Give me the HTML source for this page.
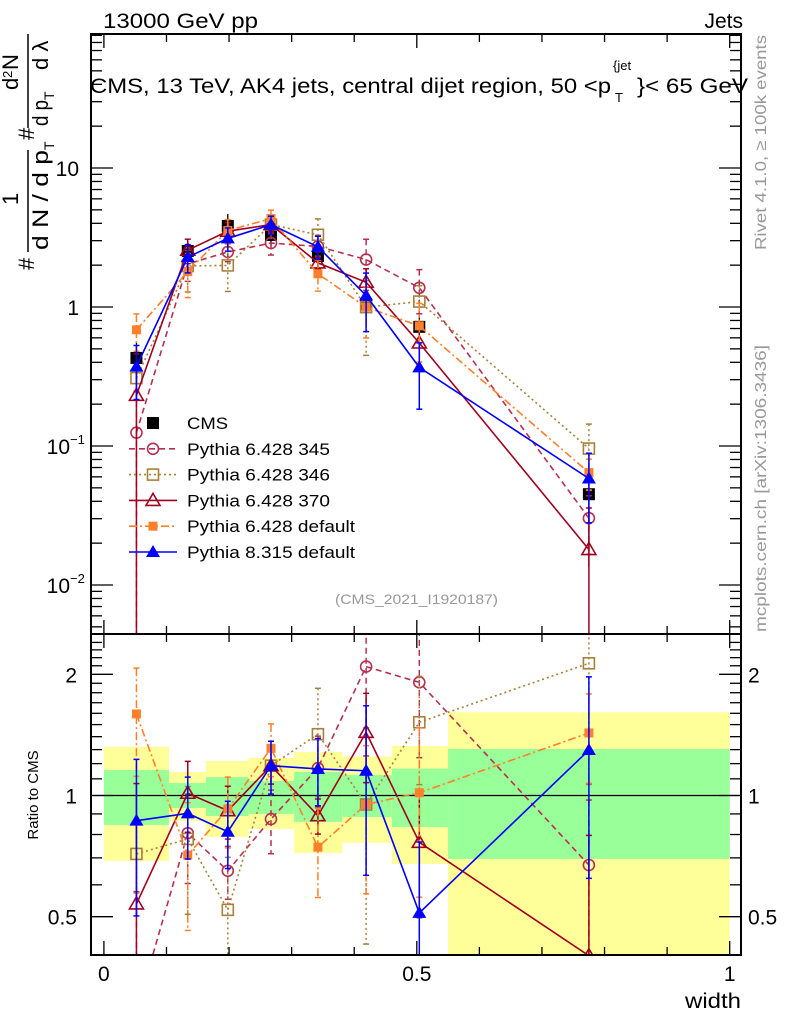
<!DOCTYPE html>
<html><head><meta charset="utf-8"><style>
body{margin:0;background:#fff;width:786px;height:1024px;overflow:hidden;font-family:"Liberation Sans",sans-serif}
svg{display:block;overflow:hidden}
</style></head><body>
<svg id="c" width="786" height="1024" xmlns="http://www.w3.org/2000/svg" font-family="Liberation Sans, sans-serif">
<text x="103" y="28" font-size="21" textLength="155" lengthAdjust="spacingAndGlyphs">13000 GeV pp</text>
<text x="743" y="28" font-size="21" text-anchor="end">Jets</text>
<text x="90" y="93" font-size="21" textLength="521" lengthAdjust="spacingAndGlyphs">CMS, 13 TeV, AK4 jets, central dijet region, 50 &lt;p</text>
<text x="613" y="70" font-size="13">{jet</text>
<text x="615" y="102" font-size="13">T</text>
<text x="637" y="93" font-size="21" textLength="111" lengthAdjust="spacingAndGlyphs">}&lt; 65 GeV</text>
<g font-size="22">
<text transform="translate(34,270) rotate(-90)">#</text>
<text transform="translate(18,205) rotate(-90)">1</text>
<line x1="28" x2="28" y1="252" y2="150" stroke="#000" stroke-width="1.5"/>
<text transform="translate(48,250) rotate(-90)" textLength="100" lengthAdjust="spacingAndGlyphs">d N / d p</text>
<text transform="translate(54,150) rotate(-90)" font-size="14">T</text>
<text transform="translate(34,140) rotate(-90)">#</text>
<text transform="translate(18,90) rotate(-90)">d</text>
<text transform="translate(12,78) rotate(-90)" font-size="13">2</text>
<text transform="translate(18,70) rotate(-90)">N</text>
<line x1="28" x2="28" y1="128" y2="34" stroke="#000" stroke-width="1.5"/>
<text transform="translate(48,126) rotate(-90)" textLength="26" lengthAdjust="spacingAndGlyphs">d p</text>
<text transform="translate(54,100) rotate(-90)" font-size="14">T</text>
<text transform="translate(48,70) rotate(-90)">d λ</text>
</g>
<text transform="translate(766,250) rotate(-90)" font-size="16" fill="#999" textLength="215" lengthAdjust="spacingAndGlyphs">Rivet 4.1.0, ≥ 100k events</text>
<text transform="translate(766,632) rotate(-90)" font-size="16" fill="#999" textLength="287" lengthAdjust="spacingAndGlyphs">mcplots.cern.ch [arXiv:1306.3436]</text>
<text x="335" y="604" font-size="14" fill="#999" textLength="163" lengthAdjust="spacingAndGlyphs">(CMS_2021_I1920187)</text>
<text transform="translate(38,795) rotate(-90)" font-size="15" text-anchor="middle">Ratio to CMS</text>
<text x="685" y="1008" font-size="21" textLength="56" lengthAdjust="spacingAndGlyphs">width</text>
<g id="g"></g>
</svg>
<script>
const binEdges=[0,0.104,0.163,0.231,0.304,0.381,0.46,0.55,1];
const xCenters=[0.052,0.134,0.198,0.267,0.342,0.419,0.504,0.775];
const cmsVals=[0.43,2.53,3.83,3.3,2.33,1.05,0.72,0.045];
const statLo=[0.845,0.931,0.889,0.9,0.86,0.884,0.835,0.696];
const statHi=[1.157,1.074,1.111,1.087,1.144,1.124,1.166,1.305];
const totLo=[0.688,0.864,0.789,0.826,0.72,0.763,0.676,0.3];
const totHi=[1.32,1.144,1.218,1.24,1.283,1.25,1.328,1.61];
const r345=[0.29,0.806,0.65,0.874,1.17,2.09,1.91,0.672];
const e345=[0.99,0.25,0.15,0.18,0.2,0.4,0.35,0.45];
const r346=[0.716,0.78,0.52,1.186,1.42,0.95,1.52,2.13];
const e346=[0.2,0.35,0.35,0.1,0.3,0.55,0.3,0.5];
const r370=[0.538,1.013,0.917,1.186,0.891,1.435,0.765,0.40];
const e370=[0.99,0.2,0.15,0.1,0.1,0.25,0.35,0.99];
const r64d=[1.594,0.711,0.926,1.31,0.744,0.95,1.016,1.43];
const e64d=[0.3,0.35,0.2,0.15,0.25,0.4,0.45,0.25];
const r8=[0.866,0.903,0.813,1.186,1.164,1.152,0.511,1.297];
const e8=[0.42,0.23,0.19,0.15,0.19,0.45,0.5,0.52];
const NS="http://www.w3.org/2000/svg";
const g=document.getElementById('g');
const L=91,R=741,T=34,MB=634,B=955;
const X=v=>103.9+v*625.8;
const YM=v=>307-139*Math.log10(v);
const YR=v=>795.5-121.2*Math.log2(v);
function el(t,a,p){const e=document.createElementNS(NS,t);for(const k in a)e.setAttribute(k,a[k]);(p||g).appendChild(e);return e;}
function clipR(id,y0,y1){const cp=el('clipPath',{id:id});el('rect',{x:L,y:y0,width:R-L,height:y1-y0},cp);}
clipR('cm',T,MB);clipR('cr',MB,B);
const gm=el('g',{'clip-path':'url(#cm)'});
const gr=el('g',{'clip-path':'url(#cr)'});
for(let i=0;i<8;i++){
 const a=el('rect',{x:X(binEdges[i]),width:X(binEdges[i+1])-X(binEdges[i]),y:YR(totHi[i]),height:YR(totLo[i])-YR(totHi[i]),fill:'#ffff99'},gr);
 
 const b=el('rect',{x:X(binEdges[i]),width:X(binEdges[i+1])-X(binEdges[i]),y:YR(statHi[i]),height:YR(statLo[i])-YR(statHi[i]),fill:'#99ff99'},gr);
 
}
el('line',{x1:L,x2:R,y1:YR(1),y2:YR(1),stroke:'#000','stroke-width':1.3},gr);
function marker(p,type,x,y,col,name){
 let m;
 if(type=='sq') m=el('rect',{x:x-6,y:y-6,width:12,height:12,fill:col},p);
 else if(type=='osq') m=el('rect',{x:x-5.5,y:y-5.5,width:11,height:11,fill:'none',stroke:col,'stroke-width':1.6},p);
 else if(type=='fsq') m=el('rect',{x:x-4.5,y:y-4.5,width:9,height:9,fill:col},p);
 else if(type=='oc') m=el('circle',{cx:x,cy:y,r:5.5,fill:'none',stroke:col,'stroke-width':1.6},p);
 else if(type=='ot') m=el('path',{d:`M${x},${y-7}L${x+7},${y+5}L${x-7},${y+5}Z`,fill:'none',stroke:col,'stroke-width':1.6},p);
 else m=el('path',{d:`M${x},${y-7}L${x+7},${y+5}L${x-7},${y+5}Z`,fill:col},p);
 
 
}
const series=[
 {r:r345,e:e345,col:'#b5304f',dash:'6,4',m:'oc',n:'pythia-6428-345'},
 {r:r346,e:e346,col:'#a8803a',dash:'2,3',m:'osq',n:'pythia-6428-346'},
 {r:r370,e:e370,col:'#a00020',dash:'',m:'ot',n:'pythia-6428-370'},
 {r:r64d,e:e64d,col:'#ff7f2a',dash:'8,3,2,3',m:'fsq',n:'pythia-6428-default'},
 {r:r8,e:e8,col:'#0000ff',dash:'',m:'ft',n:'pythia-8315-default'}];
for(let i=0;i<8;i++){
 const x=X(xCenters[i]);
 el('line',{x1:x,x2:x,y1:YM(cmsVals[i]*totHi[i]),y2:YM(cmsVals[i]*totLo[i]),stroke:'#000','stroke-width':1.3},gm);
 marker(gm,'sq',x,YM(cmsVals[i]),'#000','cms-point');
}
series.forEach(s=>{
 [[gm,i=>YM(s.r[i]*cmsVals[i]),v=>YM(v)],[gr,i=>YR(s.r[i]),v=>YR(v)]].forEach(([p,fy,fv],k)=>{
  let d='';
  for(let i=0;i<8;i++){d+=(i?'L':'M')+X(xCenters[i])+','+fy(i);}
  const pl=el('path',{d:d,fill:'none',stroke:s.col,'stroke-width':1.6,'stroke-dasharray':s.dash},p);
  
  for(let i=0;i<8;i++){
   const x=X(xCenters[i]);
   const base=k==0?s.r[i]*cmsVals[i]:s.r[i];
   const lo=Math.max(base*(1-s.e[i]),1e-4),hi=base*(1+s.e[i]);
   const ylo=Math.min(fv(lo),1000);
   el('line',{x1:x,x2:x,y1:fv(hi),y2:ylo,stroke:s.col,'stroke-width':1.5,'stroke-dasharray':s.dash},p);
   el('line',{x1:x-3,x2:x+3,y1:fv(hi),y2:fv(hi),stroke:s.col,'stroke-width':1.5},p);
   el('line',{x1:x-3,x2:x+3,y1:ylo,y2:ylo,stroke:s.col,'stroke-width':1.5},p);
   marker(p,s.m,x,fy(i),s.col,s.n+'-point');
  }
 });
});
el('rect',{x:L,y:T,width:R-L,height:MB-T,fill:'none',stroke:'#000','stroke-width':2});
el('rect',{x:L,y:MB,width:R-L,height:B-MB,fill:'none',stroke:'#000','stroke-width':2});
for(let v=0;v<=1.001;v+=0.1){
 const x=X(v),major=Math.abs(v*2-Math.round(v*2))<1e-6,len=major?14:8;
 [[T,1],[MB,-1],[MB,1],[B,-1]].forEach(([y,dir])=>el('line',{x1:x,x2:x,y1:y,y2:y+dir*len,stroke:'#000','stroke-width':1.3}));
}
[[0,'0'],[0.5,'0.5'],[1,'1']].forEach(([v,t])=>{const e=el('text',{x:X(v),y:981,'font-size':21,'text-anchor':'middle'});e.textContent=t;
 });
for(let d=-3;d<=1;d++)for(let m=1;m<=9;m++){
 const v=m*Math.pow(10,d),y=YM(v);if(y<T||y>MB)continue;const len=m==1?22:11;
 el('line',{x1:L,x2:L+len,y1:y,y2:y,stroke:'#000','stroke-width':1.3});
 el('line',{x1:R,x2:R-len,y1:y,y2:y,stroke:'#000','stroke-width':1.3});
}
[[10,'10',''],[1,'1',''],[0.1,'10','−1'],[0.01,'10','−2']].forEach(([v,b,ex])=>{
 const e=el('text',{x:ex?70:79,y:YM(v)+8,'font-size':21,'text-anchor':'end'});e.textContent=b;
 
 if(ex){const s=el('text',{x:70,y:YM(v)-2,'font-size':13});s.textContent=ex;}
});
for(let v=0.4;v<=2.5;v+=0.1){const y=YR(v);if(y<MB||y>B)continue;const maj=Math.abs(v-1)<1e-6||Math.abs(v-2)<1e-6||Math.abs(v-0.5)<1e-6;
 el('line',{x1:L,x2:L+(maj?22:11),y1:y,y2:y,stroke:'#000','stroke-width':1.3});
 el('line',{x1:R,x2:R-(maj?22:11),y1:y,y2:y,stroke:'#000','stroke-width':1.3});}
[[2,'2'],[1,'1'],[0.5,'0.5']].forEach(([v,t])=>{
 const a=el('text',{x:77,y:YR(v)+8,'font-size':21,'text-anchor':'end'});a.textContent=t;
 
 const b=el('text',{x:748,y:YR(v)+8,'font-size':21});b.textContent=t;
 
});
const leg=el('g',{});
const names=['CMS','Pythia 6.428 345','Pythia 6.428 346','Pythia 6.428 370','Pythia 6.428 default','Pythia 8.315 default'];
const nameLens=[41,143,143,143,168,168];
names.forEach((n,i)=>{
 const y=423+i*25.8;
 const ge=el('g',{},leg);
 if(i==0)marker(ge,'sq',153,y,'#000','legend-marker');
 else{const s=series[i-1];el('line',{x1:129,x2:177,y1:y,y2:y,stroke:s.col,'stroke-width':1.6,'stroke-dasharray':s.dash},ge);marker(ge,s.m,153,y,s.col,'legend-marker');}
 const t=el('text',{x:187,y:y+6,'font-size':17,textLength:nameLens[i],lengthAdjust:'spacingAndGlyphs'},ge);t.textContent=n;
});
</script>
</body></html>
